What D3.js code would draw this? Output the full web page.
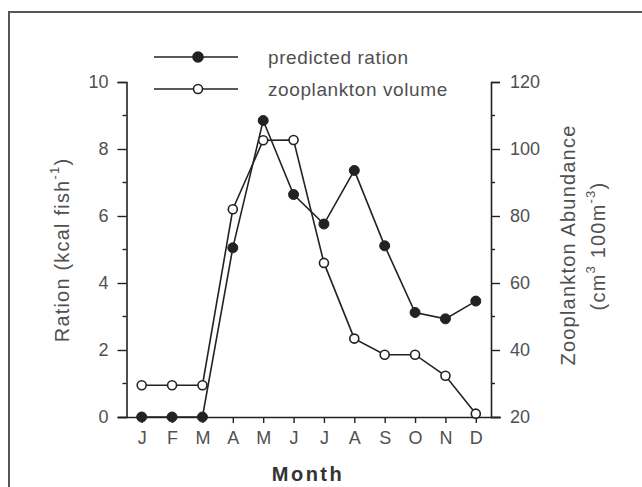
<!DOCTYPE html>
<html>
<head>
<meta charset="utf-8">
<script src="https://cdn.jsdelivr.net/npm/d3@7"></script>
<style>
  html, body { margin: 0; padding: 0; background: #fff; }
  svg { display: block; font-family: "Liberation Sans", Arial, Helvetica, sans-serif; }
</style>
</head>
<body>
<svg id="chart" width="642" height="487"></svg>
<script>
// Monthly data
const months = ["J", "F", "M", "A", "M", "J", "J", "A", "S", "O", "N", "D"];
const ration = [0, 0, 0, 5.05, 8.85, 6.64, 5.76, 7.36, 5.11, 3.12, 2.93, 3.46];
const zooplankton = [29.5, 29.5, 29.5, 82.0, 102.6, 102.7, 66.0, 43.4, 38.6, 38.6, 32.3, 21.0];

const rationTicks = [0, 2, 4, 6, 8, 10];
const rationMinor = [1, 3, 5, 7, 9];
const zooTicks = [20, 40, 60, 80, 100, 120];
const zooMinor = [30, 50, 70, 90, 110];

const seriesNames = ["predicted ration", "zooplankton volume"];

const svg = d3.select("#chart");
const ink = "#222";
const textInk = "#505050";

const plotLeft = 126.5, plotRight = 491, plotTop = 82, plotBottom = 417;

const idx = d3.range(months.length);
const x = d3.scalePoint().domain(idx).range([plotLeft, plotRight]).padding(0.5);
const yL = d3.scaleLinear().domain([0, 10]).range([plotBottom, plotTop]);
const yR = d3.scaleLinear().domain([20, 120]).range([plotBottom, plotTop]);

// outer frame (left and top edges visible)
svg.append("path")
  .attr("d", `M9,${487 + 5} L9,12 L${642 + 5},12`)
  .attr("fill", "none").attr("stroke", "#555").attr("stroke-width", 2);

// left axis
const gL = svg.append("g").attr("transform", `translate(${plotLeft},0)`);
gL.call(d3.axisLeft(yL).tickValues(rationTicks).tickSize(9).tickPadding(9).tickFormat(d3.format("d")));
gL.selectAll(".minor").data(rationMinor).enter().append("line")
  .attr("class", "minor").attr("x1", -4).attr("x2", 0)
  .attr("y1", d => yL(d)).attr("y2", d => yL(d));

// right axis
const gR = svg.append("g").attr("transform", `translate(${plotRight},0)`);
gR.call(d3.axisRight(yR).tickValues(zooTicks).tickSize(9).tickPadding(10).tickFormat(d3.format("d")));
gR.selectAll(".minor").data(zooMinor).enter().append("line")
  .attr("class", "minor").attr("x1", 0).attr("x2", 4)
  .attr("y1", d => yR(d)).attr("y2", d => yR(d));

// bottom axis
const gB = svg.append("g").attr("transform", `translate(0,${plotBottom})`);
gB.call(d3.axisBottom(x).tickSize(6).tickPadding(8).tickFormat(i => months[i]));
gB.select(".domain").attr("d", `M${plotLeft - 8},0.5H${plotRight + 10}`);

[gL, gR, gB].forEach(g => {
  g.select(".domain").attr("stroke", ink).attr("stroke-width", 1.6);
  g.selectAll("line").attr("stroke", ink).attr("stroke-width", 1.4);
  g.selectAll("text").attr("fill", textInk).attr("font-size", 18)
    .attr("font-family", "'Liberation Sans', Arial, sans-serif");
});

// axis titles
const titleL = svg.append("text")
  .attr("transform", `translate(62,250) rotate(-90)`)
  .attr("text-anchor", "middle").attr("dominant-baseline", "central")
  .attr("fill", textInk).attr("font-size", 20).attr("letter-spacing", 1.2);
titleL.append("tspan").text("Ration (kcal fish");
titleL.append("tspan").attr("dy", -8).attr("font-size", 13).text("-1");
titleL.append("tspan").attr("dy", 8).text(")");

svg.append("text")
  .attr("transform", `translate(568,245) rotate(-90)`)
  .attr("text-anchor", "middle").attr("dominant-baseline", "central")
  .attr("fill", textInk).attr("font-size", 20).attr("letter-spacing", 1.2)
  .text("Zooplankton Abundance");

const titleR2 = svg.append("text")
  .attr("transform", `translate(598,246) rotate(-90)`)
  .attr("text-anchor", "middle").attr("dominant-baseline", "central")
  .attr("fill", textInk).attr("font-size", 20).attr("letter-spacing", 1.2);
titleR2.append("tspan").text("(cm");
titleR2.append("tspan").attr("dy", -8).attr("font-size", 13).text("3");
titleR2.append("tspan").attr("dy", 8).text(" 100m");
titleR2.append("tspan").attr("dy", -8).attr("font-size", 13).text("-3");
titleR2.append("tspan").attr("dy", 8).text(")");

svg.append("text")
  .attr("x", 308).attr("y", 481)
  .attr("text-anchor", "middle")
  .attr("fill", "#333").attr("font-size", 20).attr("font-weight", "bold")
  .attr("letter-spacing", 2.5)
  .text("Month");

// series lines
const lineL = d3.line().x((d, i) => x(i)).y(d => yL(d));
const lineR = d3.line().x((d, i) => x(i)).y(d => yR(d));

svg.append("path").datum(ration).attr("d", lineL)
  .attr("fill", "none").attr("stroke", ink).attr("stroke-width", 1.6);
svg.append("path").datum(zooplankton).attr("d", lineR)
  .attr("fill", "none").attr("stroke", ink).attr("stroke-width", 1.6);

svg.selectAll(".pt-zoo").data(zooplankton).enter().append("circle")
  .attr("class", "pt-zoo")
  .attr("cx", (d, i) => x(i)).attr("cy", d => yR(d)).attr("r", 4.5)
  .attr("fill", "#fff").attr("stroke", ink).attr("stroke-width", 1.6);

svg.selectAll(".pt-ration").data(ration).enter().append("circle")
  .attr("class", "pt-ration")
  .attr("cx", (d, i) => x(i)).attr("cy", d => yL(d)).attr("r", 5)
  .attr("fill", ink).attr("stroke", ink).attr("stroke-width", 1);

// legend
const legendRows = [57, 89];
const leg = svg.append("g");
seriesNames.forEach((name, k) => {
  const y = legendRows[k];
  leg.append("line").attr("x1", 154).attr("x2", 238).attr("y1", y).attr("y2", y)
    .attr("stroke", ink).attr("stroke-width", 1.6);
  leg.append("circle").attr("cx", 198).attr("cy", y).attr("r", k === 0 ? 5 : 4.5)
    .attr("fill", k === 0 ? ink : "#fff").attr("stroke", ink).attr("stroke-width", 1.6);
  leg.append("text").attr("x", 268).attr("y", y).attr("dominant-baseline", "central")
    .attr("fill", textInk).attr("font-size", 19).attr("letter-spacing", 0.6)
    .text(name);
});
</script>
</body>
</html>
